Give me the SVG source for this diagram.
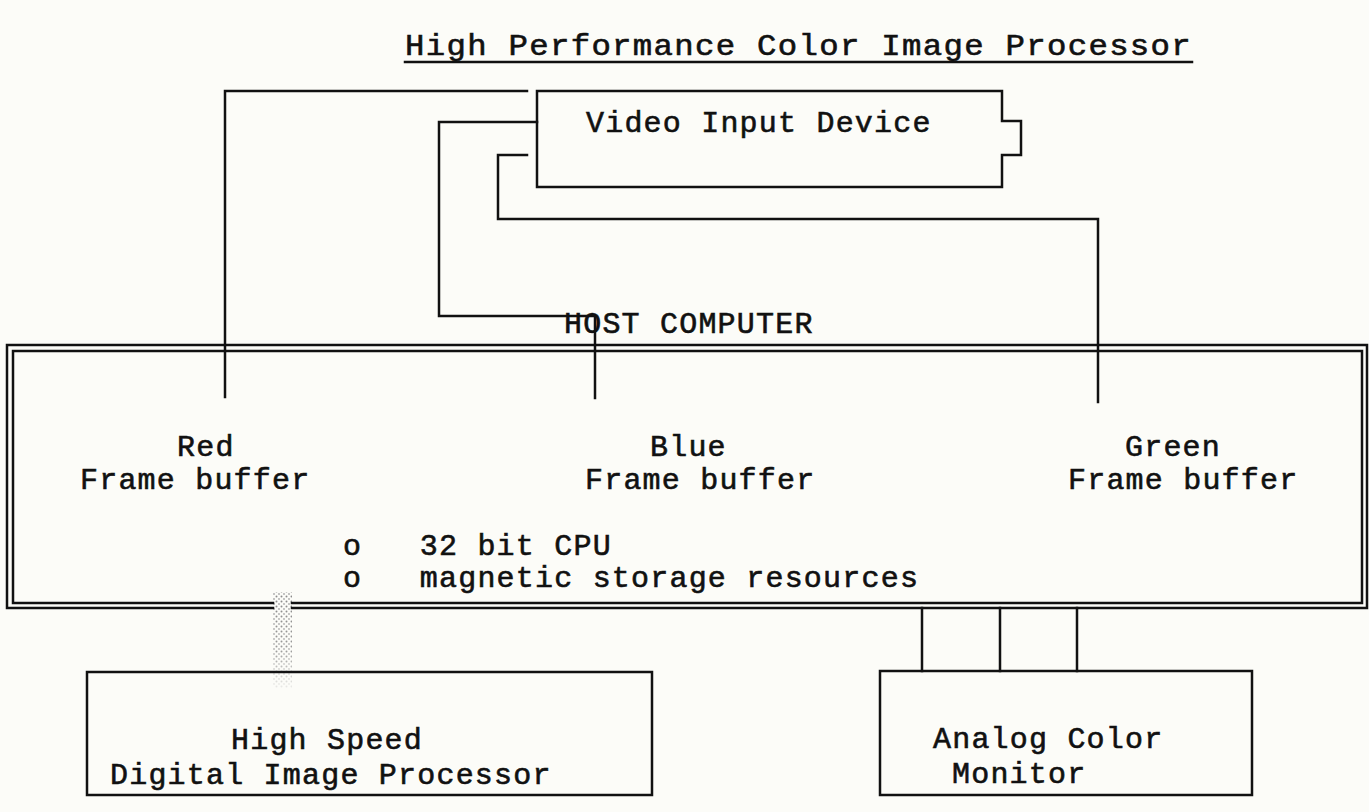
<svg xmlns="http://www.w3.org/2000/svg" width="1369" height="812" viewBox="0 0 1369 812">
<defs>
<style>
.ln{fill:none;stroke:#111;stroke-width:2.5;stroke-linecap:square;stroke-linejoin:miter}
.bx{fill:none;stroke:#111;stroke-width:2.5}
.t{font-family:"Liberation Mono","Courier New",monospace;font-size:30px;letter-spacing:1.2px;fill:#111;stroke:#111;stroke-width:0.6}
</style>
<pattern id="dots" width="5" height="5" patternUnits="userSpaceOnUse">
<circle cx="1.5" cy="1.5" r="1" fill="#8a8a8a"/>
<circle cx="4" cy="4" r="0.9" fill="#a8a8a8"/>
</pattern>
<linearGradient id="fade" x1="0" y1="0" x2="0" y2="1">
<stop offset="0" stop-color="#fcfcf8" stop-opacity="0"/>
<stop offset="0.6" stop-color="#fcfcf8" stop-opacity="0.15"/>
<stop offset="1" stop-color="#fcfcf8" stop-opacity="0.85"/>
</linearGradient>
</defs>
<rect width="1369" height="812" fill="#fcfcf8"/>
<g id="title">
<text class="t" x="405" y="55" font-size="32" textLength="787" lengthAdjust="spacingAndGlyphs">High Performance Color Image Processor</text>
<line class="ln" x1="405" y1="62" x2="1192" y2="62" stroke-width="2"/>
</g>
<g id="connectors">
<path class="ln" d="M225,397 V91 H527"/>
<path class="ln" d="M595,398 V316 H439 V122 H537"/>
<path class="ln" d="M1098,402 V219 H498 V155 H527"/>
<path class="ln" d="M922,608 V671 M1000,608 V671 M1077,608 V671"/>
<rect x="273" y="592" width="19" height="96" fill="url(#dots)"/>
<rect x="273" y="592" width="19" height="96" fill="url(#fade)"/>
</g>
<g id="video-input-device">
<path class="bx" d="M537,91 H1002 V121 H1021 V155 H1002 V187 H537 Z"/>
<text class="t" x="586" y="132">Video Input Device</text>
</g>
<g id="host-computer">
<text class="t" x="564" y="333">HOST COMPUTER</text>
<path class="ln" d="M273,608 H7 V345 H1367 V608 H292"/>
<path class="ln" d="M273,603 H13 V351 H1362 V603 H292"/>
<text class="t" x="177" y="456">Red</text>
<text class="t" x="80" y="489">Frame buffer</text>
<text class="t" x="650" y="456">Blue</text>
<text class="t" x="585" y="489">Frame buffer</text>
<text class="t" x="1125" y="456">Green</text>
<text class="t" x="1068" y="489">Frame buffer</text>
<text class="t" x="343" y="555" xml:space="preserve">o   32 bit CPU</text>
<text class="t" x="343" y="587" xml:space="preserve">o   magnetic storage resources</text>
</g>
<g id="digital-image-processor">
<rect class="bx" x="87" y="672" width="565" height="123"/>
<text class="t" x="231" y="749">High Speed</text>
<text class="t" x="110" y="784">Digital Image Processor</text>
</g>
<g id="analog-color-monitor">
<rect class="bx" x="880" y="671" width="372" height="124"/>
<text class="t" x="933" y="748">Analog Color</text>
<text class="t" x="952" y="783">Monitor</text>
</g>
</svg>
